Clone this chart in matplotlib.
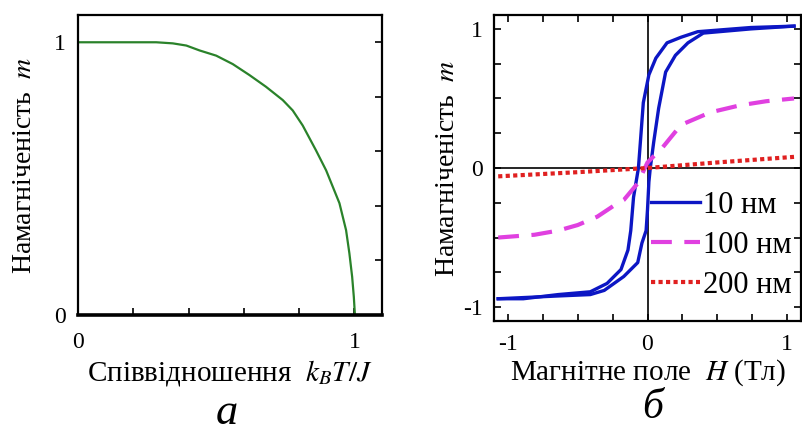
import numpy as np
import matplotlib
matplotlib.use('Agg')
import matplotlib.pyplot as plt

# Panel a: magnetization vs reduced temperature
t_ratio = [0.0, 0.10, 0.20, 0.283, 0.343, 0.392, 0.44, 0.50, 0.56, 0.62, 0.68, 0.741,
           0.777, 0.813, 0.861, 0.898, 0.922, 0.946, 0.970, 0.982, 0.992, 0.998, 1.002]
m_temp = [1.0, 1.0, 1.0, 1.0, 0.996, 0.988, 0.970, 0.951, 0.92, 0.88, 0.837, 0.788,
          0.75, 0.695, 0.604, 0.53, 0.47, 0.41, 0.311, 0.226, 0.14, 0.067, 0.0]

# Panel b: hysteresis loops
# 10 nm, left (descending) branch, from saturation at +H down to -H
h10_left = [1.05, 0.74, 0.36, 0.24, 0.14, 0.06, 0.01, -0.03, -0.05, -0.065, -0.085,
            -0.10, -0.12, -0.14, -0.19, -0.29, -0.41, -0.64, -0.89, -1.07]
m10_left = [1.02, 1.01, 0.98, 0.94, 0.90, 0.79, 0.67, 0.47, 0.20, 0.0, -0.12,
            -0.21, -0.45, -0.59, -0.73, -0.83, -0.89, -0.91, -0.94, -0.94]
# 10 nm, right (ascending) branch
h10_right = [-1.07, -0.64, -0.41, -0.31, -0.17, -0.07, -0.04, -0.01, 0.0, 0.01, 0.02,
             0.045, 0.08, 0.13, 0.20, 0.29, 0.40, 0.74, 1.05]
m10_right = [-0.94, -0.92, -0.91, -0.88, -0.78, -0.68, -0.54, -0.45, -0.30, -0.10, 0.0,
             0.19, 0.43, 0.69, 0.81, 0.90, 0.97, 1.0, 1.02]
# 100 nm
h100 = [-1.07, -0.81, -0.64, -0.50, -0.36, -0.24, -0.17, -0.07, 0.0, 0.11, 0.24,
        0.45, 0.66, 0.85, 1.05]
m100 = [-0.50, -0.48, -0.45, -0.41, -0.35, -0.27, -0.23, -0.11, 0.04, 0.15, 0.31,
        0.40, 0.45, 0.48, 0.50]
# 200 nm
h200 = [-1.07, -0.5, 0.0, 0.5, 1.05]
m200 = [-0.06, -0.03, 0.0, 0.04, 0.08]

legend_labels = ['10 нм', '100 нм', '200 нм']

plt.rcParams['font.family'] = ['Liberation Serif', 'DejaVu Serif']
plt.rcParams['mathtext.fontset'] = 'stix'
plt.rcParams['axes.unicode_minus'] = False

fig = plt.figure(figsize=(8.02, 4.32), dpi=100)

# ---------- panel a ----------
ax1 = fig.add_axes([78 / 802, 1 - 315 / 432, 304 / 802, 300 / 432])
ax1.plot(t_ratio, m_temp, color='#2a822a', lw=1.6)
ax1.set_xlim(0, 1.1)
ax1.set_ylim(0, 1.1)
ax1.set_xticks([0, 1])
ax1.set_yticks([0, 1])
ax1.set_xticks(np.arange(0, 1.01, 0.2), minor=True)
ax1.set_yticks(np.arange(0, 1.01, 0.2), minor=True)
ax1.tick_params(which='both', direction='in', top=False, right=True, left=False,
                length=5, width=1.2, labelsize=17)
ax1.tick_params(axis='x', pad=12)
ax1.tick_params(axis='y', pad=9)
for s in ax1.spines.values():
    s.set_linewidth(1.6)
ax1.spines['bottom'].set_linewidth(2.6)
ax1.set_xlabel('Співвідношення  $k_BT/J$', fontsize=21, labelpad=4)
ax1.set_ylabel('Намагніченість  $m$', fontsize=20, labelpad=12)

# ---------- panel b ----------
ax2 = fig.add_axes([494 / 802, 1 - 321 / 432, 307 / 802, 306 / 432])
ax2.axhline(0, color='black', lw=1.2)
ax2.axvline(0, color='black', lw=1.2)
blue = '#0c16c4'
line10, = ax2.plot(h10_left, m10_left, color=blue, lw=2.4)
ax2.plot(h10_right, m10_right, color=blue, lw=2.4)
line100, = ax2.plot(h100, m100, color='#e040e0', lw=3, dashes=(5, 3))
line200, = ax2.plot(h200, m200, color='#e02020', lw=3, linestyle=(0, (1, 0.8)))
ax2.set_xlim(-1.1, 1.1)
ax2.set_ylim(-1.1, 1.1)
ax2.set_xticks([-1, 0, 1])
ax2.set_yticks([-1, 0, 1])
ax2.set_xticks(np.arange(-1, 1.01, 0.25), minor=True)
ax2.set_yticks(np.arange(-1, 1.01, 0.25), minor=True)
ax2.tick_params(which='both', direction='in', top=True, right=True,
                length=5, width=1.2, labelsize=17)
ax2.tick_params(axis='x', pad=9)
ax2.tick_params(axis='y', pad=8)
for s in ax2.spines.values():
    s.set_linewidth(1.6)
ax2.set_xlabel('Магнітне поле  $H$ (Тл)', fontsize=21, labelpad=2)
ax2.set_ylabel('Намагніченість  $m$', fontsize=20, labelpad=2)
leg = ax2.legend([line10, line100, line200], legend_labels, loc='lower right',
                 bbox_to_anchor=(1.03, 0.01), frameon=False, fontsize=22,
                 handlelength=1.6, handletextpad=0.1, labelspacing=0.36,
                 borderaxespad=0.2)

# panel letters
fig.text(227 / 802, 1 - 413 / 432, 'а', fontsize=32, style='italic',
         ha='center', va='center')
fig.text(653 / 802, 1 - 408 / 432, 'б', fontsize=30, style='italic',
         ha='center', va='center')

plt.savefig('out.png', dpi=100)
